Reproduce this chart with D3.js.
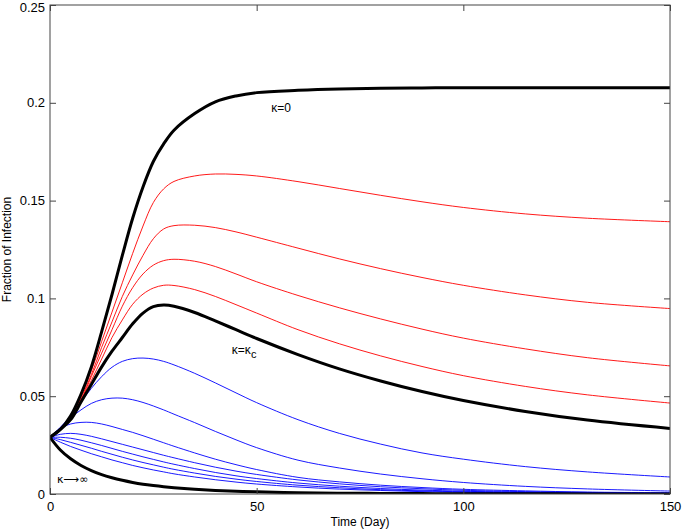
<!DOCTYPE html>
<html>
<head>
<meta charset="utf-8">
<title>Fraction of Infection</title>
<script src="https://cdn.jsdelivr.net/npm/d3@7"></script>
<style>
  body { margin: 0; background: #fff; }
  svg { display: block; font-family: "Liberation Sans", Arial, sans-serif; }
</style>
</head>
<body>
<div id="chart"></div>
<script>
// sample times (days) shared by every curve
const days = [0, 2.5, 5, 7.5, 10, 12.5, 15, 17.5, 20, 22.5, 25, 27.5, 30, 35, 40, 45, 50, 60, 70, 80, 90, 100, 115, 130, 150];

// values
const kappaZero = [0.029, 0.033, 0.040, 0.051, 0.065, 0.083, 0.102, 0.122, 0.141, 0.157, 0.170, 0.179, 0.186, 0.1945, 0.2005, 0.2035, 0.2052, 0.2064, 0.2071, 0.2074, 0.2076, 0.2077, 0.2077, 0.2077, 0.2077];
const red1 = [0.029, 0.033, 0.039, 0.050, 0.063, 0.078, 0.093, 0.108, 0.123, 0.137, 0.149, 0.156, 0.1598, 0.1626, 0.1636, 0.1634, 0.1626, 0.1597, 0.1562, 0.1527, 0.1494, 0.1465, 0.1432, 0.1410, 0.1392];
const red2 = [0.029, 0.033, 0.039, 0.049, 0.061, 0.075, 0.088, 0.101, 0.112, 0.122, 0.1305, 0.1355, 0.1372, 0.1374, 0.1362, 0.1340, 0.1313, 0.1257, 0.1202, 0.1152, 0.1107, 0.1067, 0.1018, 0.0980, 0.0948];
const red3 = [0.029, 0.033, 0.039, 0.048, 0.060, 0.072, 0.084, 0.096, 0.1055, 0.1125, 0.1170, 0.1193, 0.1200, 0.1190, 0.1163, 0.1125, 0.1085, 0.1015, 0.0952, 0.0895, 0.0843, 0.0797, 0.0742, 0.0697, 0.0655];
const red4 = [0.029, 0.033, 0.038, 0.048, 0.058, 0.069, 0.080, 0.089, 0.0970, 0.1022, 0.1053, 0.1067, 0.1066, 0.1045, 0.1010, 0.0968, 0.0925, 0.0840, 0.0768, 0.0706, 0.0652, 0.0605, 0.0550, 0.0507, 0.0465];
const kappaC = [0.029, 0.033, 0.038, 0.047, 0.056, 0.065, 0.073, 0.080, 0.087, 0.0925, 0.0958, 0.0966, 0.0960, 0.0928, 0.0885, 0.0840, 0.0795, 0.0713, 0.0640, 0.0578, 0.0524, 0.0478, 0.0422, 0.0378, 0.0335];
const blue1 = [0.029, 0.034, 0.040, 0.047, 0.054, 0.060, 0.0648, 0.0678, 0.0692, 0.0695, 0.0690, 0.0678, 0.0660, 0.0617, 0.0568, 0.0517, 0.0467, 0.0380, 0.0310, 0.0255, 0.0210, 0.0178, 0.0140, 0.0113, 0.0087];
const blue2 = [0.029, 0.034, 0.039, 0.043, 0.0463, 0.0482, 0.0490, 0.0490, 0.0482, 0.0468, 0.0450, 0.0430, 0.0408, 0.0365, 0.0320, 0.0277, 0.0237, 0.0173, 0.0133, 0.0102, 0.0078, 0.0059, 0.0039, 0.0026, 0.0015];
const blue3 = [0.029, 0.0335, 0.0358, 0.0366, 0.0366, 0.0358, 0.0345, 0.0330, 0.0315, 0.0298, 0.0280, 0.0262, 0.0244, 0.0210, 0.0178, 0.0150, 0.0125, 0.0085, 0.0062, 0.0045, 0.0033, 0.0024, 0.0016, 0.0010, 0.0006];
const blue4 = [0.029, 0.0305, 0.0310, 0.0305, 0.0295, 0.0282, 0.0268, 0.0254, 0.0240, 0.0226, 0.0212, 0.0198, 0.0185, 0.0160, 0.0137, 0.0117, 0.0100, 0.0072, 0.0052, 0.0037, 0.0027, 0.0019, 0.0012, 0.0008, 0.0005];
const blue5 = [0.029, 0.0290, 0.0285, 0.0275, 0.0262, 0.0248, 0.0233, 0.0218, 0.0204, 0.0190, 0.0177, 0.0164, 0.0152, 0.0130, 0.0110, 0.0093, 0.0079, 0.0056, 0.0040, 0.0028, 0.0020, 0.0014, 0.0009, 0.0006, 0.0003];
const blue6 = [0.029, 0.0278, 0.0264, 0.0249, 0.0234, 0.0218, 0.0203, 0.0188, 0.0174, 0.0161, 0.0149, 0.0137, 0.0126, 0.0107, 0.0090, 0.0076, 0.0064, 0.0045, 0.0032, 0.0022, 0.0016, 0.0011, 0.0007, 0.0005, 0.0003];
const blue7 = [0.029, 0.0265, 0.0243, 0.0224, 0.0206, 0.0190, 0.0174, 0.0160, 0.0146, 0.0134, 0.0123, 0.0113, 0.0103, 0.0087, 0.0073, 0.0061, 0.0051, 0.0036, 0.0025, 0.0018, 0.0012, 0.0009, 0.0006, 0.0004, 0.0002];
const kappaInf = [0.029, 0.0225, 0.0180, 0.0146, 0.0120, 0.0099, 0.0083, 0.0070, 0.0059, 0.0050, 0.0043, 0.0037, 0.0032, 0.0024, 0.0018, 0.0014, 0.0011, 0.0007, 0.0004, 0.0003, 0.0002, 0.0001, 0.0001, 0.0000, 0.0000];

const xTicks = [0, 50, 100, 150];
const yTicks = [0, 0.05, 0.1, 0.15, 0.2, 0.25];

const series = [
  { v: blue7, c: "#0000ff", w: 0.9 },
  { v: blue6, c: "#0000ff", w: 0.9 },
  { v: blue5, c: "#0000ff", w: 0.9 },
  { v: blue4, c: "#0000ff", w: 0.9 },
  { v: blue3, c: "#0000ff", w: 0.9 },
  { v: blue2, c: "#0000ff", w: 0.9 },
  { v: blue1, c: "#0000ff", w: 0.9 },
  { v: red4, c: "#ff0000", w: 0.9 },
  { v: red3, c: "#ff0000", w: 0.9 },
  { v: red2, c: "#ff0000", w: 0.9 },
  { v: red1, c: "#ff0000", w: 0.9 },
  { v: kappaInf, c: "#000", w: 3 },
  { v: kappaC, c: "#000", w: 3 },
  { v: kappaZero, c: "#000", w: 3 }
];

const W = 682, H = 532;
const m = { left: 50, right: 12, top: 5, bottom: 38 };

const svg = d3.select("#chart").append("svg")
  .attr("width", W).attr("height", H);

const x = d3.scaleLinear().domain([0, 150]).range([m.left, W - m.right]);
const y = d3.scaleLinear().domain([0, 0.25]).range([H - m.bottom, m.top]);

svg.append("clipPath").attr("id", "plot")
  .append("rect")
  .attr("x", m.left).attr("y", m.top)
  .attr("width", W - m.left - m.right).attr("height", H - m.top - m.bottom);

const line = d3.line()
  .x((d, i) => x(days[i]))
  .y(d => y(d))
  .curve(d3.curveCatmullRom.alpha(0.5));

svg.append("g").attr("clip-path", "url(#plot)")
  .selectAll("path")
  .data(series)
  .join("path")
    .attr("fill", "none")
    .attr("stroke", d => d.c)
    .attr("stroke-width", d => d.w)
    .attr("stroke-linejoin", "round")
    .attr("d", d => line(d.v));

// axes with inward ticks on all four sides
const axisColor = "#444";
function styleAxis(g) {
  g.select(".domain").remove();
  g.selectAll(".tick line").attr("stroke", axisColor);
  g.selectAll(".tick text").attr("fill", "#000").attr("font-size", 13)
    .attr("font-family", "\"Liberation Sans\", Arial, sans-serif");
}

svg.append("g")
  .attr("transform", `translate(0,${H - m.bottom})`)
  .call(d3.axisBottom(x).tickValues(xTicks).tickSizeInner(-6).tickSizeOuter(0).tickPadding(8))
  .call(styleAxis);

svg.append("g")
  .attr("transform", `translate(0,${m.top})`)
  .call(d3.axisTop(x).tickValues(xTicks).tickSizeInner(-6).tickSizeOuter(0).tickFormat(""))
  .call(styleAxis);

const yAxis = svg.append("g")
  .attr("transform", `translate(${m.left},0)`)
  .call(d3.axisLeft(y).tickValues(yTicks).tickSizeInner(-6).tickSizeOuter(0).tickPadding(5)
    .tickFormat(d => d === 0 ? "0" : String(+d.toFixed(2))))
  .call(styleAxis);
// keep the top label inside the picture
yAxis.selectAll(".tick text").filter(d => d === 0.25).attr("dy", "0.5em");

svg.append("g")
  .attr("transform", `translate(${W - m.right},0)`)
  .call(d3.axisRight(y).tickValues(yTicks).tickSizeInner(-6).tickSizeOuter(0).tickFormat(""))
  .call(styleAxis);

svg.append("rect")
  .attr("x", m.left).attr("y", m.top)
  .attr("width", W - m.left - m.right).attr("height", H - m.top - m.bottom)
  .attr("fill", "none").attr("stroke", axisColor).attr("stroke-width", 1);

// axis titles
svg.append("text")
  .attr("x", (m.left + W - m.right) / 2).attr("y", H - 6)
  .attr("text-anchor", "middle").attr("font-size", 12)
  .text("Time (Day)");

svg.append("text")
  .attr("transform", `translate(11,${(m.top + H - m.bottom) / 2}) rotate(-90)`)
  .attr("text-anchor", "middle").attr("font-size", 12)
  .text("Fraction of Infection");

// curve labels
svg.append("text")
  .attr("x", x(53.5)).attr("y", y(0.1955))
  .attr("font-size", 12)
  .text("κ=0");

const kc = svg.append("text")
  .attr("x", x(44)).attr("y", y(0.0715))
  .attr("font-size", 12);
kc.append("tspan").text("κ=κ");
kc.append("tspan").attr("dy", 4).attr("font-size", 11).text("c");

svg.append("text")
  .attr("x", x(1.7)).attr("y", y(0.0055))
  .attr("font-size", 11)
  .attr("font-family", "\"DejaVu Sans\", sans-serif")
  .text("κ⟶∞");
</script>
</body>
</html>
